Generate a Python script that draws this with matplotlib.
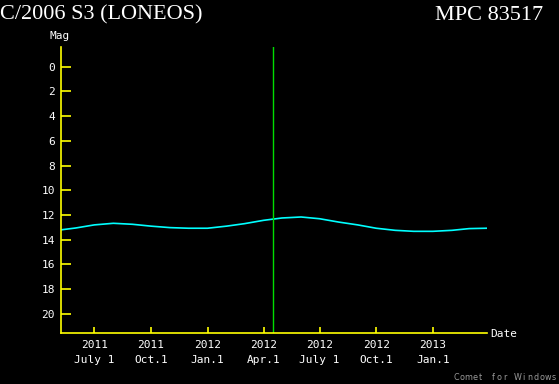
import datetime as dt
import matplotlib
matplotlib.use('Agg')
import matplotlib.pyplot as plt

# Magnitude curve (roughly monthly)
dates = ['2011-05-08', '2011-06-01', '2011-07-01', '2011-08-01', '2011-09-01',
         '2011-10-01', '2011-11-01', '2011-12-01', '2012-01-01', '2012-02-01',
         '2012-03-01', '2012-04-01', '2012-05-01', '2012-06-01', '2012-07-01',
         '2012-08-01', '2012-09-01', '2012-10-01', '2012-11-01', '2012-12-01',
         '2013-01-01', '2013-02-01', '2013-03-01', '2013-03-29']
mags = [13.2, 13.05, 12.8, 12.67, 12.75,
        12.9, 13.02, 13.07, 13.07, 12.9,
        12.7, 12.43, 12.24, 12.16, 12.3,
        12.57, 12.8, 13.07, 13.24, 13.32,
        13.32, 13.24, 13.1, 13.07]

today = '2012-04-16'
x_start, x_end = '2011-05-08', '2013-03-30'

tick_dates = ['2011-07-01', '2011-10-01', '2012-01-01', '2012-04-01',
              '2012-07-01', '2012-10-01', '2013-01-01']
tick_labels = ['2011\nJuly 1', '2011\nOct.1', '2012\nJan.1', '2012\nApr.1',
               '2012\nJuly 1', '2012\nOct.1', '2013\nJan.1']
mag_ticks = list(range(0, 21, 2))


def d(s):
    return dt.datetime.strptime(s, '%Y-%m-%d')


W, H = 559, 384
fig = plt.figure(figsize=(W / 100, H / 100), dpi=100, facecolor='black')
ax = fig.add_axes([61 / W, 1 - 333 / H, (487 - 61) / W, (333 - 47) / H])
ax.set_facecolor('black')

yellow = '#ffff00'
mono = 'DejaVu Sans Mono'

ax.plot([d(s) for s in dates], mags, color='#00ffff', linewidth=1.2)
ax.axvline(d(today), color='#00dd00', linewidth=1)

ax.set_xlim(d(x_start), d(x_end))
ax.set_ylim(21.55, -1.6)

for side in ['top', 'right']:
    ax.spines[side].set_visible(False)
for side in ['left', 'bottom']:
    ax.spines[side].set_color(yellow)
    ax.spines[side].set_linewidth(1.2)

ax.set_yticks(mag_ticks)
ax.set_yticklabels([str(m) for m in mag_ticks], family=mono, fontsize=8, color='white')
ax.tick_params(axis='y', direction='in', length=7, color=yellow, width=1.2, pad=4.5)

ax.set_xticks([d(s) for s in tick_dates])
ax.set_xticklabels(tick_labels, family=mono, fontsize=8, color='white', linespacing=1.6)
ax.tick_params(axis='x', direction='in', length=4, color=yellow, width=1.2, pad=5)

fig.text(60 / W, 1 - 36 / H, 'Mag', family=mono, fontsize=8, color='white',
         ha='center', va='center')
fig.text(490 / W, 1 - 334 / H, 'Date', family=mono, fontsize=8, color='white',
         ha='left', va='center')

fig.text(0, 1 - 15 / H, 'C/2006 S3 (LONEOS)', family='Liberation Serif', fontsize=16,
         color='white', ha='left', va='center')
fig.text(543 / W, 1 - 15 / H, 'MPC 83517', family='Liberation Serif', fontsize=16,
         color='white', ha='right', va='center')

# letter-spaced watermark
mark = 'Comet for Windows'
step = 6.1
x0 = 557 - step * (len(mark) - 1) - 3
for i, ch in enumerate(mark):
    fig.text((x0 + i * step) / W, 1 - 377 / H, ch, family='DejaVu Sans', fontsize=5.8,
             color='#9a9a9a', ha='center', va='center')

fig.savefig('out.png', dpi=100, facecolor='black')
